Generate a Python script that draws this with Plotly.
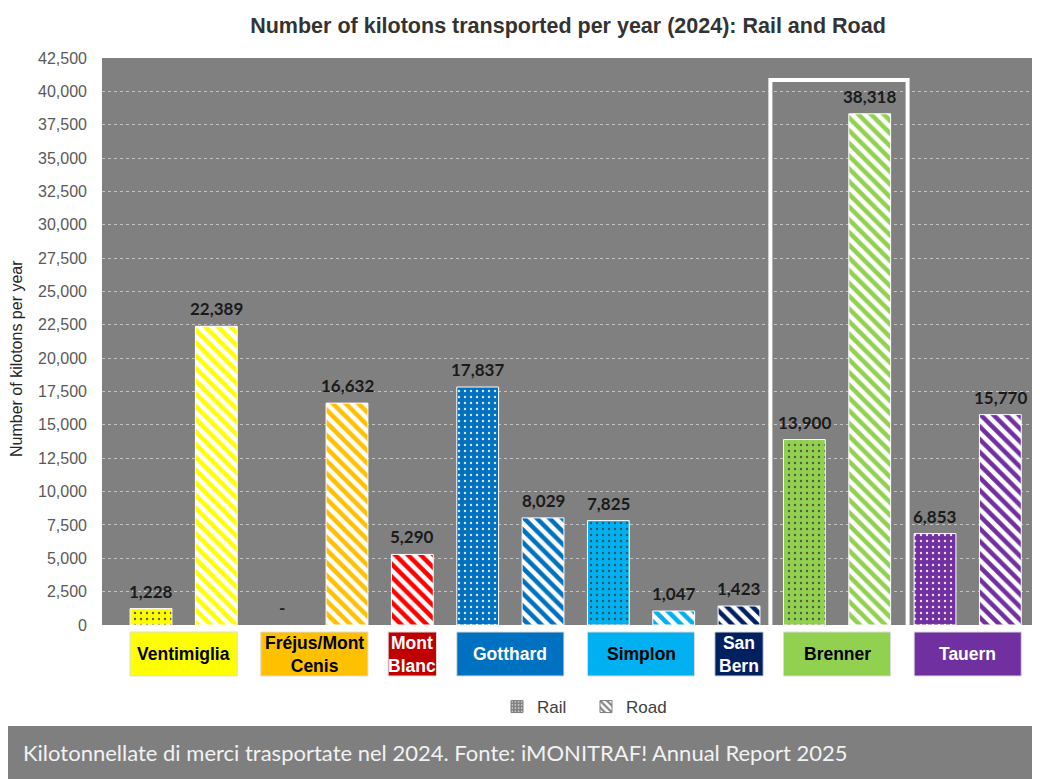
import plotly.graph_objects as go

# ---------------- data ----------------
passes = ["Ventimiglia", "Fréjus/Mont Cenis", "Mont Blanc", "Gotthard",
          "Simplon", "San Bernardino", "Brenner", "Tauern"]
pass_labels = ["Ventimiglia", "Fréjus/Mont<br>Cenis", "Mont<br>Blanc", "Gotthard",
               "Simplon", "San<br>Bern", "Brenner", "Tauern"]
rail_kt = [1228, 0, None, 17837, 7825, None, 13900, 6853]
road_kt = [22389, 16632, 5290, 8029, 1047, 1423, 38318, 15770]
bar_colors = ["#FFFF00", "#FFC000", "#FF0000", "#0070C0",
              "#00B0F0", "#002060", "#92D050", "#7030A0"]
box_colors = ["#FFFF00", "#FFC000", "#C00000", "#0070C0",
              "#00B0F0", "#002060", "#92D050", "#7030A0"]
box_text_colors = ["#000000", "#000000", "#FFFFFF", "#FFFFFF",
                   "#000000", "#FFFFFF", "#000000", "#FFFFFF"]
highlight_pass = "Brenner"
y_max = 42500
y_step = 2500
title = "Number of kilotons transported per year (2024): Rail and Road"
y_title = "Number of kilotons per year"
caption = "Kilotonnellate di merci trasportate nel 2024. Fonte: iMONITRAF! Annual Report 2025"

# ---------------- layout geometry (reference pixel coords) ----------------
OX, OY = 8, 8                      # page body margin offset
W, H = 1040 - OX, 779 - OY
ML, MR, MT, MB = 102 - OX, 5, 58 - OY, 779 - 625
PW, PH = W - ML - MR, H - MT - MB


def px_x(px):
    return (px - OX - ML) / PW


def px_y(py):
    return (H - MB - (py - OY)) / PH


# build slots
rail_x, rail_y, rail_c = [], [], []
road_x, road_y, road_c = [], [], []
groups = []
slot = 0
for i, p in enumerate(passes):
    first = slot
    if rail_kt[i] is not None:
        rail_x.append(slot); rail_y.append(rail_kt[i]); rail_c.append(bar_colors[i])
        slot += 1
    road_x.append(slot); road_y.append(road_kt[i]); road_c.append(bar_colors[i])
    groups.append((first, slot))
    slot += 1


def fmt(v):
    return "-" if v == 0 else f"{v:,}"


fig = go.Figure()
BW = 0.64
fig.add_trace(go.Bar(
    x=rail_x, y=rail_y, width=BW, showlegend=False, hoverinfo="skip",
    marker=dict(color=rail_c,
                line=dict(color="white", width=[0 if v == 0 else 1 for v in rail_y]),
                pattern=dict(shape=".", fgcolor="white", fgopacity=0.85,
                             size=6, solidity=0.12, fillmode="overlay")),
))
fig.add_trace(go.Bar(
    x=road_x, y=road_y, width=BW, showlegend=False, hoverinfo="skip",
    marker=dict(color="white",
                line=dict(color="white", width=[0 if v == 0 else 1 for v in road_y]),
                pattern=dict(shape="\\", fgcolor=road_c, fgopacity=1,
                             size=9, solidity=0.5, fillmode="overlay")),
))
# legend-only traces
fig.add_trace(go.Bar(
    x=[None], y=[None], name="Rail", legend="legend",
    marker=dict(color="#7f7f7f", line=dict(color="#7f7f7f", width=1),
                pattern=dict(shape=".", fgcolor="#d0d0d0", fgopacity=1,
                             size=4, solidity=0.25, fillmode="overlay")),
))
fig.add_trace(go.Bar(
    x=[None], y=[None], name="Road", legend="legend2",
    marker=dict(color="white", line=dict(color="#7f7f7f", width=1),
                pattern=dict(shape="\\", fgcolor="#7f7f7f", fgopacity=1,
                             size=6, solidity=0.45, fillmode="overlay")),
))

annotations = []
for xs, ys in ((rail_x, rail_y), (road_x, road_y)):
    for x, y in zip(xs, ys):
        annotations.append(dict(
            x=x, y=y, xref="x", yref="y", text=fmt(y), showarrow=False,
            yanchor="bottom", yshift=5,
            font=dict(family="Lato", size=17, color="#1a1a1a", weight="bold"),
        ))

shapes = []
for i, (a, b) in enumerate(groups):
    pad = 0.37 if a == b else 0.32
    shapes.append(dict(
        type="rect", xref="x", yref="paper", x0=a - pad, x1=b + pad,
        y0=px_y(676), y1=px_y(632), fillcolor=box_colors[i],
        line=dict(color="#dcdcdc", width=1), layer="above",
    ))
    annotations.append(dict(
        x=(a + b) / 2, y=(px_y(676) + px_y(632)) / 2, xref="x", yref="paper",
        text=f"<b>{pass_labels[i]}</b>", showarrow=False,
        font=dict(family="Arial", size=17.5, color=box_text_colors[i]),
        yanchor="middle", xanchor="center",
    ))
    if passes[i] == highlight_pass:
        x0, x1 = a - 0.52, b + 0.58
        y1 = 40850
        shapes.append(dict(
            type="path", xref="x", yref="y",
            path=f"M {x0},0 L {x0},{y1} L {x1},{y1} L {x1},0",
            line=dict(color="white", width=4), layer="above",
        ))

# y-axis title
annotations.append(dict(
    x=px_x(16), y=px_y(359), xref="paper", yref="paper", text=y_title,
    textangle=-90, showarrow=False, xanchor="center", yanchor="middle",
    font=dict(family="Arial", size=16, color="#262626"),
))

# caption band
shapes.append(dict(
    type="rect", xref="paper", yref="paper", x0=px_x(OX), x1=px_x(1045),
    y0=px_y(790), y1=px_y(726), fillcolor="#7f7f7f", line=dict(width=0),
))
annotations.append(dict(
    x=px_x(21), y=px_y(752), xref="paper", yref="paper", text=caption,
    showarrow=False, xanchor="left", yanchor="middle",
    font=dict(family="Lato", size=22, color="#f2f2f2"),
))

fig.update_layout(
    width=W, height=H,
    margin=dict(l=ML, r=MR, t=MT, b=MB, autoexpand=False),
    paper_bgcolor="white", plot_bgcolor="#808080",
    barmode="overlay",
    title=dict(text=f"<b>{title}</b>", x=px_x(568), xref="paper",
               xanchor="center", y=1 - (25 - OY) / H, yref="container", yanchor="middle",
               font=dict(family="Arial", size=21.5, color="#333333")),
    xaxis=dict(range=[-0.75, slot - 0.47], showticklabels=False, showgrid=False,
               zeroline=False, showline=False, fixedrange=True),
    yaxis=dict(range=[0, y_max], dtick=y_step, tickformat=",", showgrid=True,
               gridcolor="#c4c4c4", griddash="3px,3px", gridwidth=1, zeroline=False,
               showline=False, ticks="", ticklabelstandoff=14,
               tickfont=dict(family="Arial", size=16, color="#595959")),
    legend=dict(orientation="h", x=px_x(572), xanchor="right", y=px_y(707),
                yanchor="middle", font=dict(family="Arial", size=17, color="#404040"),
                bgcolor="rgba(0,0,0,0)", itemwidth=30),
    legend2=dict(orientation="h", x=px_x(672), xanchor="right", y=px_y(707),
                 yanchor="middle", font=dict(family="Arial", size=17, color="#404040"),
                 bgcolor="rgba(0,0,0,0)", itemwidth=30),
    annotations=annotations,
    shapes=shapes,
)

fig.write_html("out.html")
